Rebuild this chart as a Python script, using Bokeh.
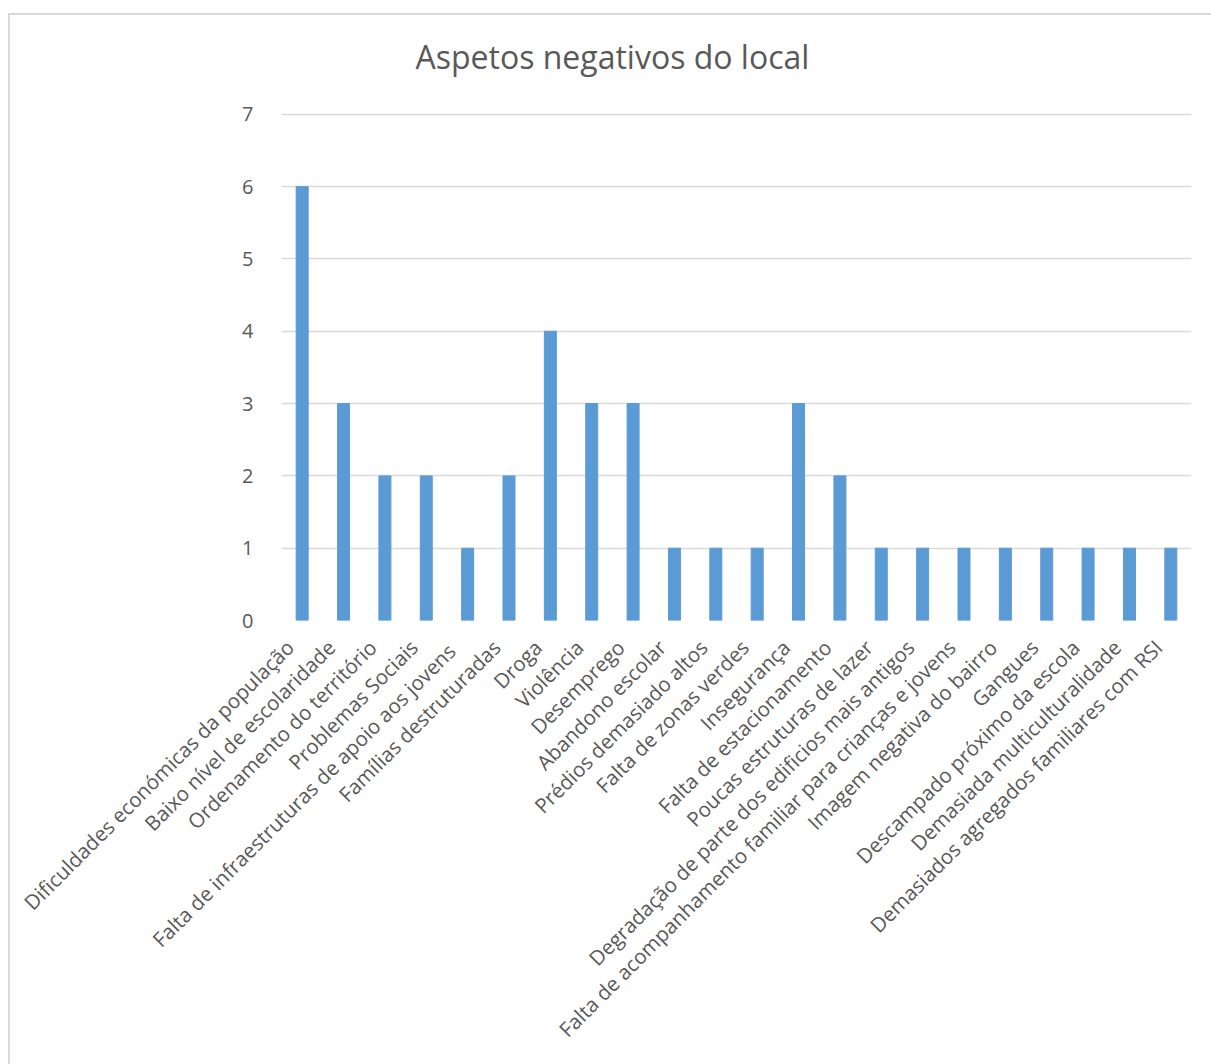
import math
from bokeh.plotting import figure
from bokeh.models import Range1d, FixedTicker, LinearAxis
from bokeh.core.properties import value
from bokeh.embed import file_html
from bokeh.resources import INLINE

categories = [
    "Dificuldades económicas da população",
    "Baixo nível de escolaridade",
    "Ordenamento do território",
    "Problemas Sociais",
    "Falta de infraestruturas de apoio  aos jovens",
    "Famílias destruturadas",
    "Droga",
    "Violência",
    "Desemprego",
    "Abandono escolar",
    "Prédios demasiado altos",
    "Falta de zonas verdes",
    "Insegurança",
    "Falta de estacionamento",
    "Poucas estruturas de lazer",
    "Degradação de parte dos edificios mais antigos",
    "Falta de acompanhamento familiar para crianças e jovens",
    "Imagem negativa do bairro",
    "Gangues",
    "Descampado próximo da escola",
    "Demasiada multiculturalidade",
    "Demasiados agregados familiares com RSI",
]
counts = [6, 3, 2, 2, 1, 2, 4, 3, 3, 1, 1, 1, 3, 2, 1, 1, 1, 1, 1, 1, 1, 1]
y_ticks = [0, 1, 2, 3, 4, 5, 6, 7]
title_text = "Aspetos negativos do local"

TEXT = "#595959"
GRID = "#d9d9d9"
FONT = "Open Sans"
LABEL_SHIFT = 0.3  # nudges the slanted category labels left of their bars

n = len(categories)
positions = list(range(n))

# the frame reaches above the top gridline so the heading can sit inside it
y_top = 8.09
title_x = 7.5
title_y = 7.8

p = figure(
    x_range=Range1d(-0.5, n - 0.5),
    y_range=Range1d(0, y_top),
    frame_width=910,
    frame_height=585,
    output_backend="svg",
    toolbar_location=None,
    x_axis_location=None,
    min_border_left=271,
    min_border_right=22,
    min_border_top=20,
    min_border_bottom=446,
)
p.margin = (13, 0, 0, 8)
p.styles = {"border-left": f"2px solid {GRID}", "border-top": f"2px solid {GRID}"}
p.outline_line_color = None
p.background_fill_color = "white"
p.border_fill_color = "white"

p.text(x=[title_x], y=[title_y], text=[title_text],
       text_align="center", text_baseline="middle",
       text_font=value(FONT), text_font_size="32px", text_color=TEXT)

p.vbar(x=positions, top=counts, width=0.29, color="#5b9bd5")

p.xgrid.grid_line_color = None
p.ygrid.grid_line_color = GRID
p.ygrid.grid_line_width = 1.3
p.yaxis.ticker = FixedTicker(ticks=y_ticks)

p.yaxis.axis_line_color = None
p.yaxis.major_tick_line_color = None
p.yaxis.minor_tick_line_color = None
p.yaxis.major_label_text_font = FONT
p.yaxis.major_label_text_font_size = "20px"
p.yaxis.major_label_text_color = TEXT
p.yaxis.major_label_standoff = 22

# category names on a slightly shifted range so each slanted label
# ends just left of its bar
p.extra_x_ranges = {"labels": Range1d(-0.5 + LABEL_SHIFT, n - 0.5 + LABEL_SHIFT)}
label_axis = LinearAxis(
    x_range_name="labels",
    ticker=FixedTicker(ticks=positions),
    major_label_overrides={i: name for i, name in enumerate(categories)},
)
label_axis.axis_line_color = None
label_axis.major_tick_line_color = None
label_axis.minor_tick_line_color = None
label_axis.major_label_orientation = math.pi / 4
label_axis.major_label_text_font = FONT
label_axis.major_label_text_font_size = "20.5px"
label_axis.major_label_text_color = TEXT
label_axis.major_label_standoff = 17
p.add_layout(label_axis, "below")

open("out.html", "w").write(file_html(p, INLINE))
